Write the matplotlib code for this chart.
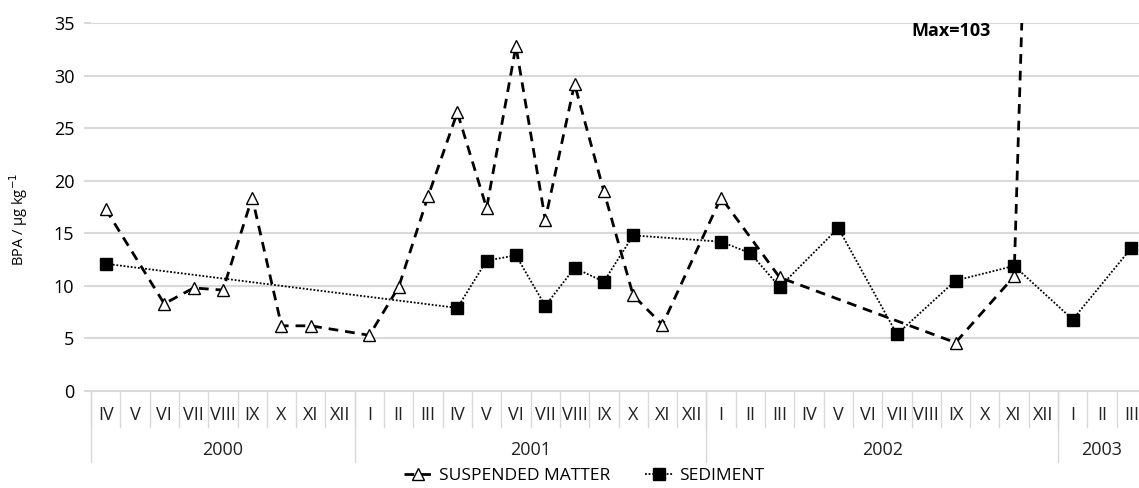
import numpy as np
import matplotlib
matplotlib.use("Agg")
import matplotlib.pyplot as plt
from matplotlib.transforms import blended_transform_factory

plt.rcParams['font.family'] = ['Open Sans', 'DejaVu Sans']

# months IV 2000 .. III 2003
months = ["IV", "V", "VI", "VII", "VIII", "IX", "X", "XI", "XII",
          "I", "II", "III", "IV", "V", "VI", "VII", "VIII", "IX", "X", "XI", "XII",
          "I", "II", "III", "IV", "V", "VI", "VII", "VIII", "IX", "X", "XI", "XII",
          "I", "II", "III"]
years = ["2000", "2001", "2002", "2003"]
year_counts = [9, 12, 12, 3]

# BPA, ug/kg (None = no sample)
suspended = [17.3, None, 8.3, 9.8, 9.6, 18.4, 6.2, 6.2, None,
             5.3, 9.9, 18.5, 26.5, 17.4, 32.8, 16.3, 29.2, 19.0, 9.1, 6.3, None,
             18.4, None, 10.8, None, None, None, None, None, 4.6, None, 10.9, 103.0,
             None, None, None]
sediment = [12.1, None, None, None, None, None, None, None, None,
            None, None, None, 7.9, 12.4, 12.9, 8.1, 11.7, 10.4, 14.8, None, None,
            14.2, 13.1, 9.9, None, 15.5, None, 5.4, None, 10.5, None, 11.9, None,
            6.8, None, 13.6]


def valid(vals):
    x = [i for i, v in enumerate(vals) if v is not None]
    y = [vals[i] for i in x]
    return np.array(x), np.array(y)


fig = plt.figure(figsize=(11.39, 4.88), dpi=100)
ax = fig.add_axes([91 / 1139, 1 - 391 / 488, 1055 / 1139, 368 / 488])

xs, ys = valid(suspended)
ax.plot(xs, ys, color='black', linestyle=(0, (3.5, 2.5)), linewidth=2,
        marker='^', markersize=9, markerfacecolor='white', markeredgecolor='black',
        markeredgewidth=1, label='SUSPENDED MATTER', zorder=3)
xd, yd = valid(sediment)
ax.plot(xd, yd, color='black', linestyle=(0, (1, 1)), linewidth=1.3,
        marker='s', markersize=8, markerfacecolor='black', markeredgecolor='black',
        label='SEDIMENT', zorder=4)

ax.set_xlim(-0.5, len(months) - 0.5)
ax.set_ylim(0, 35)
ax.set_yticks(range(0, 36, 5))
ax.grid(axis='y', color='#d9d9d9', linewidth=1.5)
ax.set_axisbelow(True)
for s in ['top', 'right', 'left']:
    ax.spines[s].set_visible(False)
ax.spines['bottom'].set_color('#d9d9d9')
ax.spines['bottom'].set_linewidth(1.5)
ax.tick_params(axis='y', length=5, width=1.5, color='#d9d9d9', pad=7, labelsize=13)
ax.set_xticks([])
ax.set_ylabel('BPA / µg kg$^{-1}$', fontsize=10.5)
ax.yaxis.set_label_coords(-0.058, 0.465)

# category axis: months and years with separators
tr = blended_transform_factory(ax.transData, ax.transAxes)
for i, m in enumerate(months):
    ax.text(i, -0.065, m, transform=tr, ha='center', va='center', fontsize=13, color='#222222')
    ax.plot([i - 0.5, i - 0.5], [0, -0.098], transform=tr, color='#d9d9d9',
            linewidth=1, clip_on=False)
start = 0
for yr, n in zip(years, year_counts):
    ax.plot([start - 0.5, start - 0.5], [0, -0.193], transform=tr, color='#d9d9d9',
            linewidth=1, clip_on=False)
    ax.text(start + n / 2 - 0.5, -0.160, yr, transform=tr, ha='center', va='center',
            fontsize=13, color='#222222')
    start += n

ax.text(28.85, 34.2, 'Max=103', ha='center', va='center', fontsize=13, fontweight='bold')

fig.legend(loc='center', bbox_to_anchor=(0.513, 0.024), ncol=2, frameon=False,
           fontsize=12.5, handlelength=1.6, columnspacing=2.0, handletextpad=0.4)

fig.savefig('out.png', dpi=100)
